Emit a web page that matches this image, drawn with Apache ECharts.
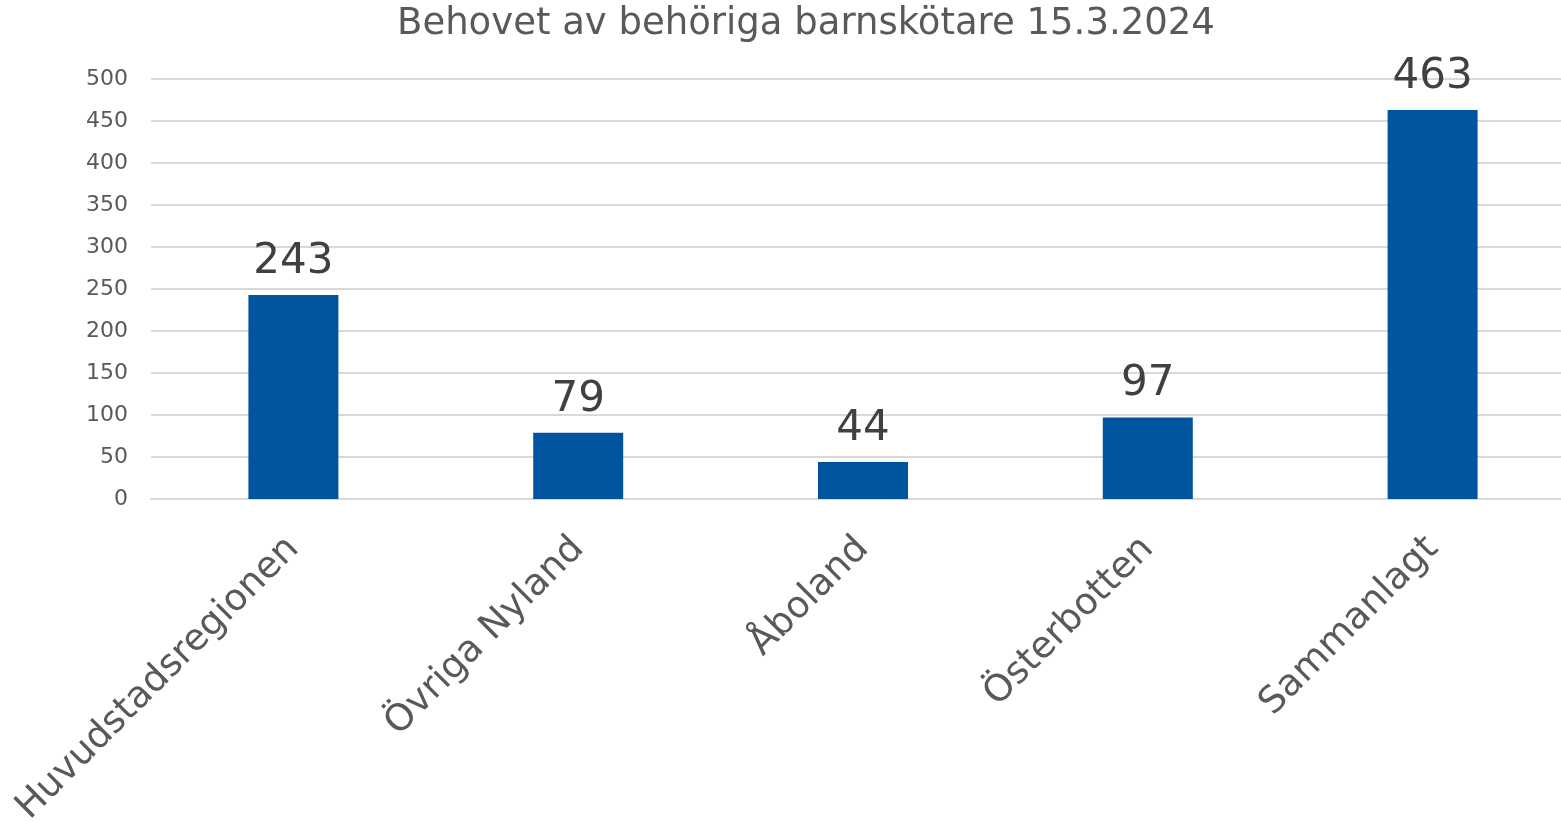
<!DOCTYPE html>
<html>
<head>
<meta charset="utf-8">
<script src="https://cdn.jsdelivr.net/npm/echarts@6/dist/echarts.min.js"></script>
<style>
  html, body { margin: 0; padding: 0; background: #fff; }
  #main { width: 1561px; height: 821px; }
</style>
</head>
<body>
<div id="main"></div>
<script>
// data
var categories = ['Huvudstadsregionen', 'Övriga Nyland', 'Åboland', 'Österbotten', 'Sammanlagt'];
var values = [243, 79, 44, 97, 463];

var myChart = echarts.init(document.getElementById('main'));
var font = 'Verdana, "DejaVu Sans", sans-serif';
var option = {
    animation: false,
    title: {
        text: 'Behovet av behöriga barnskötare 15.3.2024',
        left: 392,
        top: 1,
        textStyle: { fontFamily: font, fontSize: 37, fontWeight: 'normal', color: '#595959' }
    },
    grid: { left: 151, right: -14, top: 79, bottom: 322, containLabel: false, outerBoundsMode: 'none' },
    xAxis: {
        type: 'category',
        data: categories,
        axisLine: { show: true, lineStyle: { color: '#d9d9d9', width: 2 } },
        axisTick: { show: false },
        axisLabel: {
            rotate: 45,
            margin: 44,
            fontFamily: font,
            fontSize: 37,
            color: '#595959',
            interval: 0
        }
    },
    yAxis: {
        type: 'value',
        min: 0,
        max: 500,
        interval: 50,
        axisLine: { show: false },
        axisTick: { show: false },
        axisLabel: { fontFamily: font, fontSize: 22, color: '#595959', margin: 23 },
        splitLine: { lineStyle: { color: '#d9d9d9', width: 2 } }
    },
    series: [{
        type: 'bar',
        data: values,
        barWidth: 90,
        itemStyle: { color: '#00559e' },
        label: {
            show: true,
            position: 'top',
            distance: 12,
            fontFamily: font,
            fontSize: 42,
            color: '#404040'
        }
    }]
};
myChart.setOption(option);
</script>
</body>
</html>
